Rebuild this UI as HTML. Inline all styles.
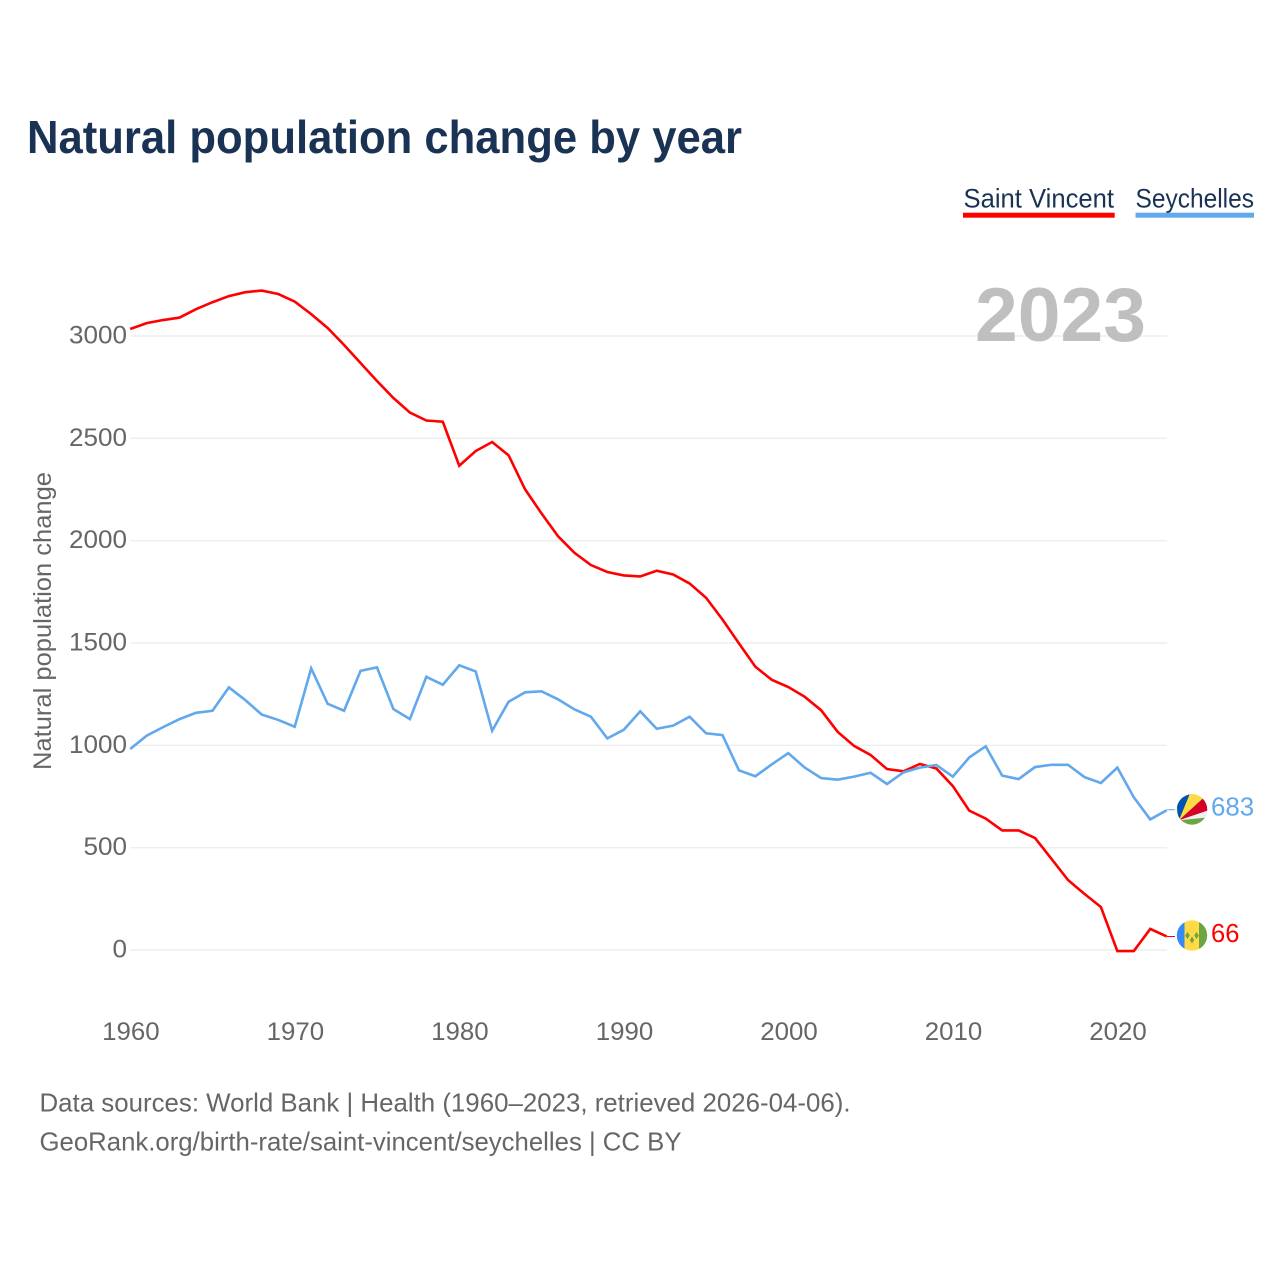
<!DOCTYPE html>
<html lang="en">
<head>
<meta charset="utf-8">
<title>Natural population change by year</title>
<style>
html,body{margin:0;padding:0;background:#fff;}
svg{display:block;font-family:"Liberation Sans",sans-serif;}
</style>
</head>
<body>
<svg id="chart" xmlns="http://www.w3.org/2000/svg" width="1280" height="1280" viewBox="0 0 1280 1280">
  <defs>
    <clipPath id="flag-clip"><circle cx="0" cy="0" r="15.2"/></clipPath>
  </defs>
  <rect x="0" y="0" width="1280" height="1280" fill="#ffffff"/>
  <text x="27" y="153" font-size="46" font-weight="700" fill="#1a3354" textLength="715" lengthAdjust="spacingAndGlyphs">Natural population change by year</text>

  <g>
    <text x="963.5" y="207.5" font-size="26.5" fill="#1a3354" textLength="150.5" lengthAdjust="spacingAndGlyphs">Saint Vincent</text>
    <rect x="963" y="212.7" width="151.7" height="5" fill="#ff0000"/>
    <text x="1135.5" y="207.5" font-size="26.5" fill="#1a3354" textLength="118.5" lengthAdjust="spacingAndGlyphs">Seychelles</text>
    <rect x="1135.5" y="212.7" width="118.5" height="5" fill="#61a8ec"/>
  </g>

  <g id="grid"></g>
  <text x="975" y="341" font-size="76" font-weight="700" fill="#bfbfbf" textLength="171" lengthAdjust="spacingAndGlyphs">2023</text>
  <g id="y-ticks"></g>
  <g id="x-ticks"></g>
  <text transform="translate(51 621) rotate(-90)" text-anchor="middle" font-size="25" fill="#666666" textLength="298" lengthAdjust="spacingAndGlyphs">Natural population change</text>
  <g id="series"></g>

  <g id="flag-seychelles">
    <g clip-path="url(#flag-clip)">
      <rect x="-16" y="-16" width="32" height="32" fill="#6da544"/>
      <polygon points="-13,10.7 -17,-16 -2,-16" fill="#0052b4"/>
      <polygon points="-13,10.7 -2,-16 16,-16" fill="#ffda44"/>
      <polygon points="-13,10.7 16,-15.5 16,1" fill="#d80027"/>
      <polygon points="-13,10.7 16,1 16,8" fill="#f0f0f0"/>
    </g>
  </g>
  <g id="flag-saint-vincent">
    <g clip-path="url(#flag-clip)">
      <rect x="-16" y="-16" width="9" height="32" fill="#338af3"/>
      <rect x="-7.5" y="-16" width="15.5" height="32" fill="#ffda44"/>
      <rect x="7" y="-16" width="9" height="32" fill="#6da544"/>
      <polygon points="-4.5,-3.5 -2.2,0 -4.5,3.5 -6.8,0" fill="#6da544"/>
      <polygon points="4.5,-3.5 6.8,0 4.5,3.5 2.2,0" fill="#6da544"/>
      <polygon points="0,1 2.2,4.5 0,8 -2.2,4.5" fill="#6da544"/>
    </g>
  </g>
  <g id="end-labels"></g>

  <text x="39.5" y="1111.5" font-size="26" fill="#666666" textLength="811" lengthAdjust="spacingAndGlyphs">Data sources: World Bank | Health (1960–2023, retrieved 2026-04-06).</text>
  <text x="39.5" y="1150.5" font-size="26" fill="#666666" textLength="642" lengthAdjust="spacingAndGlyphs">GeoRank.org/birth-rate/saint-vincent/seychelles | CC BY</text>
</svg>
<script>
const years = [1960,1961,1962,1963,1964,1965,1966,1967,1968,1969,1970,1971,1972,1973,1974,1975,1976,1977,1978,1979,1980,1981,1982,1983,1984,1985,1986,1987,1988,1989,1990,1991,1992,1993,1994,1995,1996,1997,1998,1999,2000,2001,2002,2003,2004,2005,2006,2007,2008,2009,2010,2011,2012,2013,2014,2015,2016,2017,2018,2019,2020,2021,2022,2023];
const saintVincent = [3034,3063,3078,3090,3131,3165,3195,3214,3222,3205,3168,3107,3039,2956,2868,2780,2697,2626,2587,2581,2366,2438,2482,2417,2251,2133,2022,1941,1881,1847,1830,1825,1853,1835,1791,1721,1615,1498,1384,1320,1285,1237,1171,1066,997,953,884,873,909,887,801,681,642,584,584,547,445,342,274,210,-5,-5,103,66];
const seychelles = [982,1047,1089,1128,1159,1169,1283,1221,1150,1124,1091,1376,1203,1169,1364,1381,1177,1128,1335,1296,1391,1361,1071,1213,1259,1264,1225,1176,1140,1034,1076,1166,1081,1096,1140,1059,1050,878,849,907,962,891,840,832,847,866,811,868,891,904,847,941,995,852,835,894,905,905,845,816,891,746,638,683];
const yTickValues = [0,500,1000,1500,2000,2500,3000];
const xTickValues = [1960,1970,1980,1990,2000,2010,2020];

const NS = 'http://www.w3.org/2000/svg';
function xScale(year){ return 130.2 + (year - 1960) * (1166.7 - 130.2) / 63; }
function yScale(value){ return 950 - value * 0.20467; }
function make(tag, attrs, parent){
  const el = document.createElementNS(NS, tag);
  for (const k in attrs) el.setAttribute(k, attrs[k]);
  parent.appendChild(el);
  return el;
}

const gridGroup = document.getElementById('grid');
const yTickGroup = document.getElementById('y-ticks');
yTickValues.forEach(function(v){
  const line = make('line', {x1:130.5, x2:1167, y1:yScale(v), y2:yScale(v), stroke:'#eeeeee', 'stroke-width':1.4}, gridGroup);
  
  
  const label = String(v);
  const t = make('text', {x:127, y:yScale(v) + 7.5, 'text-anchor':'end', 'font-size':25, fill:'#666666', textLength:label.length * 14.5, lengthAdjust:'spacingAndGlyphs'}, yTickGroup);
  
  
  t.textContent = label;
});

const xTickGroup = document.getElementById('x-ticks');
xTickValues.forEach(function(v){
  const t = make('text', {x:xScale(v) + 0.7, y:1040, 'text-anchor':'middle', 'font-size':25, fill:'#666666', textLength:57.5, lengthAdjust:'spacingAndGlyphs'}, xTickGroup);
  
  
  t.textContent = String(v);
});

function pointsFor(values){
  return values.map(function(v, i){ return xScale(years[i]).toFixed(2) + ',' + yScale(v).toFixed(2); }).join(' ');
}
const seriesGroup = document.getElementById('series');
const endGroup = document.getElementById('end-labels');

const redLine = make('polyline', {points:pointsFor(saintVincent), fill:'none', stroke:'#ff0000', 'stroke-width':2.6, 'stroke-linejoin':'miter'}, seriesGroup);


const blueLine = make('polyline', {points:pointsFor(seychelles), fill:'none', stroke:'#61a8ec', 'stroke-width':2.6, 'stroke-linejoin':'miter'}, seriesGroup);



const lastRed = saintVincent[saintVincent.length - 1];
const lastBlue = seychelles[seychelles.length - 1];

const redConnector = make('line', {x1:1167, x2:1175, y1:yScale(lastRed), y2:yScale(lastRed), stroke:'#ff0000', 'stroke-width':1}, endGroup);


const blueConnector = make('line', {x1:1167, x2:1175, y1:yScale(lastBlue) - 0.5, y2:yScale(lastBlue) - 0.5, stroke:'#61a8ec', 'stroke-width':1}, endGroup);



document.getElementById('flag-saint-vincent').setAttribute('transform', 'translate(1192 ' + (yScale(lastRed) - 1) + ')');
document.getElementById('flag-seychelles').setAttribute('transform', 'translate(1192 ' + (yScale(lastBlue) - 0.7) + ')');

const redLabel = make('text', {x:1211, y:yScale(lastRed) + 5.5, 'font-size':26, fill:'#ff0000', textLength:String(lastRed).length * 14.2, lengthAdjust:'spacingAndGlyphs'}, endGroup);


redLabel.textContent = String(lastRed);
const blueLabel = make('text', {x:1211, y:yScale(lastBlue) + 5.5, 'font-size':26, fill:'#61a8ec', textLength:String(lastBlue).length * 14.4, lengthAdjust:'spacingAndGlyphs'}, endGroup);


blueLabel.textContent = String(lastBlue);
</script>
</body>
</html>
